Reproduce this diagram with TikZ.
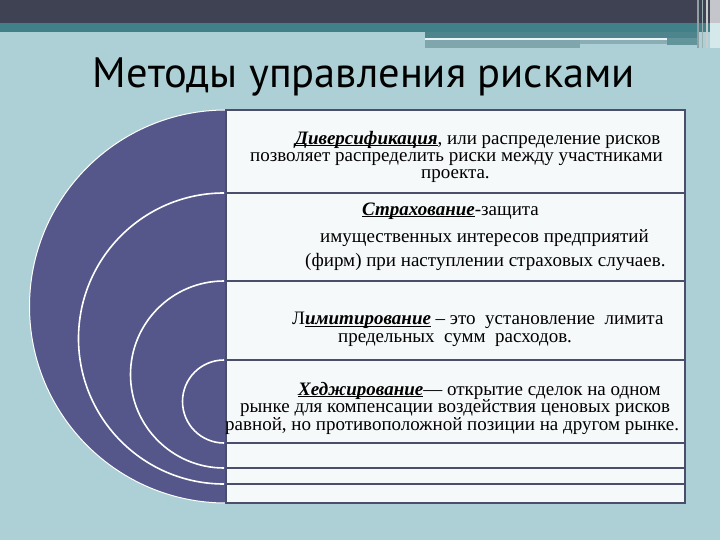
\documentclass[tikz,border=0pt]{standalone}
\usepackage{fontspec}
\setmainfont{Liberation Serif}
\newfontfamily\titlefont{PT Sans}
\definecolor{bg}{HTML}{ACD0D5}
\definecolor{darkband}{HTML}{3F4253}
\definecolor{tealband}{HTML}{418088}
\definecolor{tealb}{HTML}{4E858C}
\definecolor{stripa}{HTML}{7FA6AD}
\definecolor{stripb}{HTML}{8AAEB4}
\definecolor{halo}{HTML}{55578A}
\definecolor{cellfill}{HTML}{F6F9FA}
\definecolor{gridline}{HTML}{4A4E6A}
\tikzset{
  txt/.style={anchor=base west, inner sep=0pt, font=\fontsize{19}{21}\selectfont},
  block/.style={anchor=base west, inner sep=0pt, align=left,
    font={\fontsize{19}{17.2}\selectfont\lineskiplimit=-100pt}},
  ring/.style={draw=white, line width=1.6pt},
  grid/.style={draw=gridline, line width=2pt}
}
\newsavebox{\kwbox}
\newcommand{\kw}[1]{\sbox{\kwbox}{\textbf{\textit{#1}}}\rlap{\rule[-1.6pt]{\wd\kwbox}{0.9pt}}\usebox{\kwbox}}
\begin{document}
\begin{tikzpicture}[x=1pt,y=-1pt]
\useasboundingbox (0,0) rectangle (720,540);
\fill[bg] (0,0) rectangle (720,540);
% top decoration
\fill[darkband] (0,0) rectangle (720,23);
\fill[tealband] (0,23) rectangle (720,32);
\fill[tealb] (425,32) rectangle (698,38);
\fill[white!75!bg] (425,38) rectangle (667,40);
\fill[stripa] (425,40) rectangle (580,48);
\fill[stripb] (580,40) rectangle (667,44);
\fill[tealb!80!bg] (667,38) rectangle (698,45);
\fill[gray!60!bg] (697,0) rectangle (699,48);
\fill[gray!40!bg] (702,0) rectangle (703,48);
\fill[white!60!gray] (706,0) rectangle (708,48);
\fill[white!70!darkband] (710,0) rectangle (720,23);
\fill[white!50!bg] (710,23) rectangle (720,48);
% title
\node[anchor=base, inner sep=0pt, font=\titlefont\fontsize{42.5}{46}\selectfont] (title) at (364,88) {Методы управления рисками};
% half disc and rings
\fill[halo] (226,110) arc[start angle=90, end angle=270, radius=196.5pt] -- cycle;
\draw[draw=white, line width=1pt] (226,110) arc[start angle=90, end angle=270, radius=196.5pt];
\draw[ring] (224,193) arc[start angle=90, end angle=270, radius=145.5pt];
\draw[ring] (224,281) arc[start angle=90, end angle=270, radius=93.5pt];
\draw[ring] (224,360) arc[start angle=90, end angle=270, radius=41.5pt];
% table
\fill[cellfill] (226,110) rectangle (685,503);
\draw[grid] (226,110) rectangle (685,503);
\foreach \yy in {193,281,360,443,468,484} \draw[grid] (226,\yy) -- (685,\yy);
% row 1
\node[block] (r1) at (250,179) {\hspace*{45pt}\kw{Диверсификация}, или распределение рисков\\
позволяет распределить риски между участниками\\
\hspace*{171pt}проекта.};
% row 2
\node[txt] (r2a) at (362,215) {\kw{Страхование}-защита};
\node[txt] (r2b) at (320,242) {имущественных интересов предприятий};
\node[txt] (r2c) at (305,266) {(фирм) при наступлении страховых случаев.};
% row 3
\node[block] (r3) at (292,342) {Л\kw{имитирование} – это~ установление~ лимита\\
\hspace*{46pt}предельных~ сумм~ расходов.};
% row 4
\node[block] (r4) at (225,430) {\hspace*{73pt}\kw{Хеджирование}— открытие сделок на одном\\
\hspace*{15pt}рынке для компенсации воздействия ценовых рисков\\
равной, но противоположной позиции на другом рынке.};
\end{tikzpicture}
\end{document}
